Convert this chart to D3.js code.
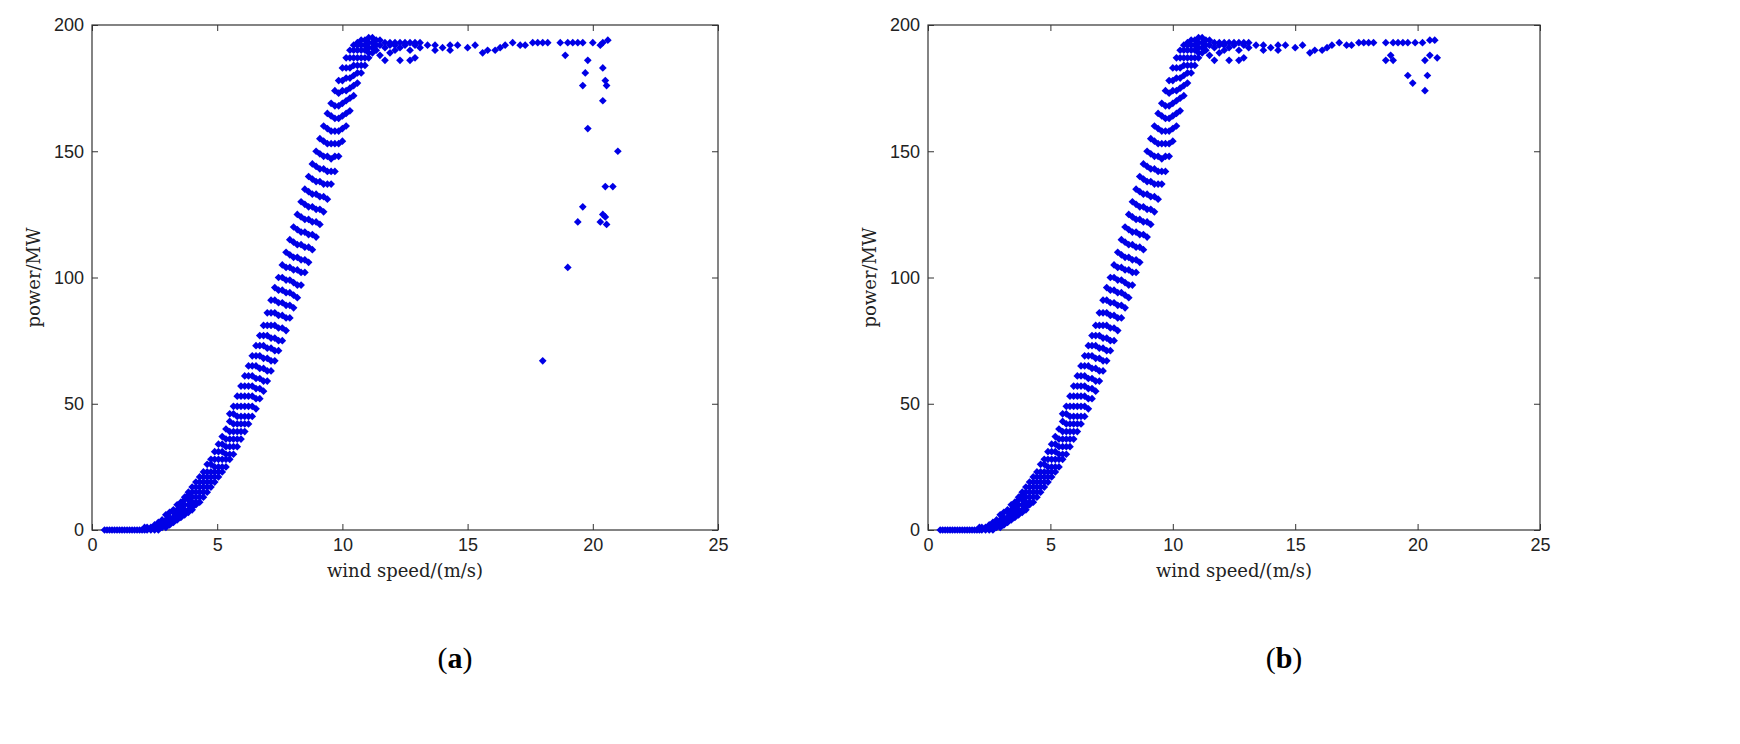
<!DOCTYPE html>
<html><head><meta charset="utf-8">
<script src="https://cdn.jsdelivr.net/npm/d3@7"></script>
<style>body{margin:0;background:#fff}</style>
</head><body>
<svg id="canvas"></svg>
<script>
// power curve band: "speed: powers..."
let band = [
  "0.5:0","0.6:0","0.7:0","0.8:0","0.9:0","1.0:0","1.1:0","1.2:0","1.3:0","1.4:0","1.5:0","1.6:0",
  "1.7:0","1.8:0","1.9:0","2.0:0","2.1:0 1","2.2:0 1","2.35:0 1","2.5:0 1 2","2.65:0 1 2 3",
  "2.8:1 2 3 4","2.95:1 2 3 4 6","3.1:2 3 4 5 7","3.25:3 4 5 7 8","3.4:4 5 6 8 10","3.55:5 6 7 9 11",
  "3.7:6 7 8 10 12 13","3.85:7 8 10 12 14 15","4.0:8 9 11 13 15 17","4.15:10 11 13 15 17 19","4.3:11 13 15 17 19 21",
  "4.45:13 15 17 19 21 23","4.6:15 17 19 21 23 26","4.75:17 19 21 23 26 28","4.9:19 21 23 25 28 31","5.05:21 23 25 28 31 34",
  "5.2:23 25 28 31 34 37","5.35:25 28 30 33 36 40","5.5:28 30 33 36 39 43 46","5.65:30 33 36 39 42 46 49",
  "5.8:33 36 39 42 45 49 53","5.95:36 39 42 45 49 53 57","6.1:39 42 45 49 53 57 61","6.25:42 45 49 53 57 61 65",
  "6.4:45 49 53 57 61 65 69","6.55:48 52 56 60 65 69 73","6.7:52 56 60 64 69 73 77","6.85:55 59 64 68 73 77 81",
  "7.0:59 63 68 72 77 81 86","7.15:63 67 72 76 81 86 91","7.3:67 71 76 81 86 91 96","7.45:71 75 80 85 90 95 100",
  "7.6:75 80 85 90 95 100 105","7.75:79 84 89 94 99 104 110","7.9:84 89 94 99 104 109 115","8.05:88 93 98 103 108 114 120",
  "8.2:92 97 103 108 113 119 125","8.35:97 102 107 113 118 124 130","8.5:102 107 112 118 123 129 135",
  "8.65:106 112 117 123 128 134 140","8.8:111 117 122 128 133 139 145","8.95:116 122 127 133 138 144 150",
  "9.1:121 127 132 138 143 149 155","9.25:126 132 137 143 148 154 160","9.4:131 137 142 148 153 159 165",
  "9.55:137 142 147 153 158 164 169","9.7:142 148 153 158 163 168 174","9.85:148 153 158 163 168 173 178",
  "10.0:154 159 164 169 174 178 183","10.15:160 165 170 174 179 183 187","10.3:166 171 175 179 183 187 190",
  "10.45:172 176 180 184 187 190 192","10.6:177 181 184 187 190 192 193","10.75:181 184 187 190 192 194",
  "10.9:184 187 190 192 194","11.05:187 189 191 193 195","11.2:189 191 193 195","11.35:190 192 194",
  "11.5:188 192 194","11.7:186 191 193","11.9:189 192 193","12.1:190 192 193",
  "12.3:186 191 193","12.5:192 193","12.7:186 190 193","12.9:187 192 193","13.1:191 193","13.4:192",
  "13.7:190 192","14.0:191","14.3:190 192","14.6:192","15.0:191","15.3:192","15.6:189","15.8:190",
  "16.1:190","16.3:191","16.5:192","16.8:193","17.1:192","17.3:192","17.6:193","17.8:193","18.0:193",
  "18.2:193"
];
// outliers / high-wind points for each panel
let highA = [[18.7,193],[18.9,188],[19.0,193],[19.2,193],[19.4,193],[19.6,193],[19.7,181],[19.8,186],
  [19.6,176],[20.0,193],[20.3,192],[20.4,193],[20.6,194],[20.4,183],[20.5,178],[20.55,176],[20.4,170],
  [19.8,159],[21.0,150],[20.5,136],[20.8,136],[19.6,128],[19.4,122],[20.3,122],[20.4,125],[20.5,124],
  [20.55,121],[19.0,104],[18.0,67]];
let highB = [[18.7,193],[18.9,188],[19.0,193],[19.2,193],[19.4,193],[19.6,193],[19.9,193],[20.2,193],
  [20.5,194],[20.7,194],[18.7,186],[19.0,186],[19.6,180],[19.8,177],[20.3,174],[20.4,180],[20.3,186],
  [20.5,188],[20.8,187]];
let xTicks = [0, 5, 10, 15, 20, 25];
let yTicks = [0, 50, 100, 150, 200];

let core = [];
band.forEach((s) => {
  let [v, ps] = s.split(":");
  ps.split(" ").forEach((p) => core.push([+v, +p]));
});

let width = 1740, height = 744;
let canvas = d3.select("#canvas").attr("width", width).attr("height", height);

let drawPanel = (left, right, points, label) => {
  let top = 25, bottom = 530;
  let xScale = d3.scaleLinear().domain([0, 25]).range([left, right]);
  let yScale = d3.scaleLinear().domain([0, 200]).range([bottom, top]);
  let g = canvas.append("g");

  g.append("rect").attr("x", left).attr("y", top).attr("width", right - left)
    .attr("height", bottom - top).attr("fill", "none").attr("stroke", "#333").attr("stroke-width", 1.2);

  let styleAxis = (sel) => {
    sel.select(".domain").remove();
    sel.selectAll("line").attr("stroke", "#333");
    sel.selectAll("text").attr("font-family", "Liberation Sans, Arial, sans-serif")
      .attr("font-size", 18).attr("fill", "#222");
  };
  g.append("g").attr("transform", "translate(0," + bottom + ")")
    .call(d3.axisBottom(xScale).tickValues(xTicks).tickSizeInner(-6).tickSizeOuter(0).tickPadding(8))
    .call(styleAxis);
  g.append("g").attr("transform", "translate(0," + top + ")")
    .call(d3.axisTop(xScale).tickValues(xTicks).tickSizeInner(-6).tickSizeOuter(0).tickFormat(""))
    .call(styleAxis);
  g.append("g").attr("transform", "translate(" + left + ",0)")
    .call(d3.axisLeft(yScale).tickValues(yTicks).tickSizeInner(-6).tickSizeOuter(0).tickPadding(8))
    .call(styleAxis);
  g.append("g").attr("transform", "translate(" + right + ",0)")
    .call(d3.axisRight(yScale).tickValues(yTicks).tickSizeInner(-6).tickSizeOuter(0).tickFormat(""))
    .call(styleAxis);

  let diamond = d3.symbol().type(d3.symbolDiamond2).size(38);
  g.selectAll("path.pt").data(points).enter().append("path")
    .attr("class", "pt").attr("d", diamond)
    .attr("transform", (d) => "translate(" + xScale(d[0]) + "," + yScale(d[1]) + ")")
    .attr("fill", "#0000e6");

  g.append("text").attr("x", (left + right) / 2).attr("y", 577).attr("text-anchor", "middle")
    .attr("font-family", "DejaVu Serif, serif").attr("font-size", 18).attr("fill", "#222")
    .text("wind speed/(m/s)");
  g.append("text").attr("transform", "translate(" + (left - 52) + "," + (top + bottom) / 2 + ") rotate(-90)")
    .attr("text-anchor", "middle").attr("font-family", "DejaVu Serif, serif").attr("font-size", 18)
    .attr("fill", "#222").text("power/MW");
  let t = g.append("text").attr("x", (left + right) / 2 + 50).attr("y", 668).attr("text-anchor", "middle")
    .attr("font-family", "Liberation Serif, serif").attr("font-size", 30).attr("fill", "#000");
  t.append("tspan").text("(");
  t.append("tspan").attr("font-weight", "bold").text(label);
  t.append("tspan").text(")");
};

drawPanel(92, 718, core.concat(highA), "a");
drawPanel(928, 1540, core.concat(highB), "b");
</script>
</body></html>
